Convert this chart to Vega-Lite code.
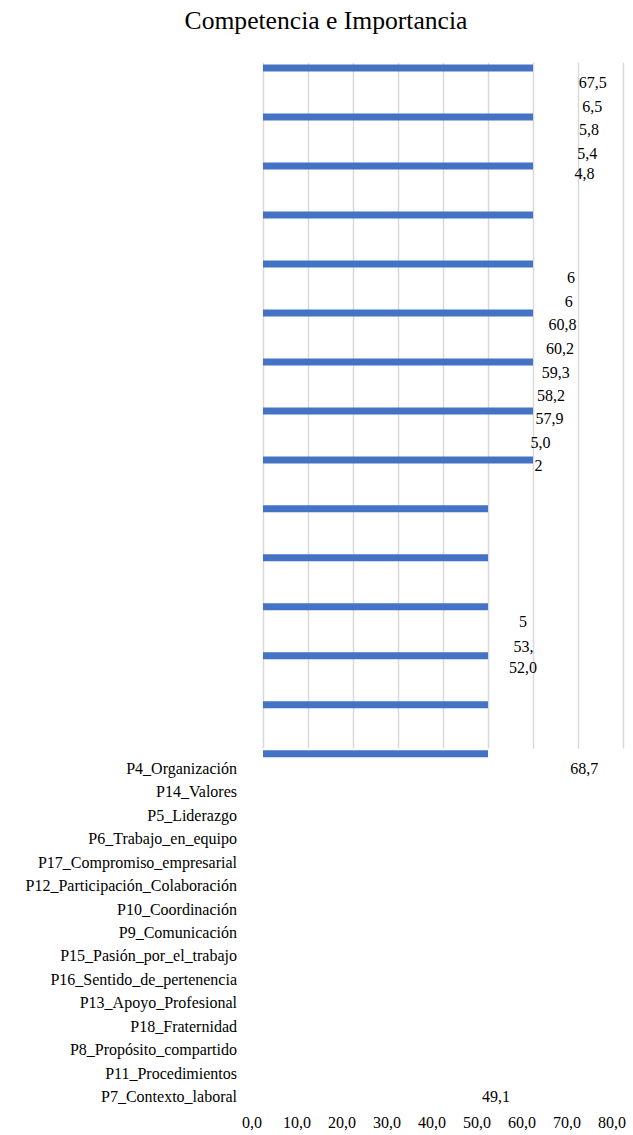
{
  "$schema": "https://vega.github.io/schema/vega-lite/v6.json",
  "width": 360,
  "height": 690,
  "autosize": "none",
  "padding": {"left": 263, "top": 63, "right": 10, "bottom": 382},
  "background": "white",
  "title": {
    "text": "Competencia e Importancia",
    "font": "Liberation Serif, Times New Roman, serif",
    "fontSize": 25.6,
    "fontWeight": "normal",
    "color": "black",
    "anchor": "middle",
    "dx": -117,
    "offset": 28
  },
  "config": {"view": {"stroke": null}, "font": "Liberation Serif, Times New Roman, serif"},
  "resolve": {"scale": {"y": "independent"}},
  "layer": [
    {
      "data": {"values": [
        {"cat": "P4_Organización", "value": 60},
        {"cat": "P14_Valores", "value": 60},
        {"cat": "P5_Liderazgo", "value": 60},
        {"cat": "P6_Trabajo_en_equipo", "value": 60},
        {"cat": "P17_Compromiso_empresarial", "value": 60},
        {"cat": "P12_Participación_Colaboración", "value": 60},
        {"cat": "P10_Coordinación", "value": 60},
        {"cat": "P9_Comunicación", "value": 60},
        {"cat": "P15_Pasión_por_el_trabajo", "value": 60},
        {"cat": "P16_Sentido_de_pertenencia", "value": 50},
        {"cat": "P13_Apoyo_Profesional", "value": 50},
        {"cat": "P18_Fraternidad", "value": 50},
        {"cat": "P8_Propósito_compartido", "value": 50},
        {"cat": "P11_Procedimientos", "value": 50},
        {"cat": "P7_Contexto_laboral", "value": 50}
      ]},
      "mark": {"type": "bar", "size": 7, "color": "#4472C4"},
      "encoding": {
        "x": {
          "field": "value",
          "type": "quantitative",
          "scale": {"domain": [0, 80], "nice": false},
          "axis": {
            "values": [0, 10, 20, 30, 40, 50, 60, 70, 80],
            "title": null,
            "domain": false,
            "ticks": false,
            "grid": true,
            "gridColor": "#D9D9D9",
            "gridWidth": 1.5,
            "labelExpr": "replace(format(datum.value, '.1f'), '.', ',')",
            "labelFont": "Liberation Serif, Times New Roman, serif",
            "labelFontSize": 16,
            "labelColor": "black",
            "labelBaseline": "top",
            "labelPadding": 0,
            "labelFlush": false,
            "labelOverlap": false,
            "labelOffset": -11.5,
            "offset": 361
          }
        },
        "y": {
          "field": "cat",
          "type": "nominal",
          "sort": null,
          "scale": {"type": "point", "padding": 0, "range": [5, 690.8]},
          "axis": null
        }
      }
    },
    {
      "data": {"values": [
        {"cat": "P4_Organización"},
        {"cat": "P14_Valores"},
        {"cat": "P5_Liderazgo"},
        {"cat": "P6_Trabajo_en_equipo"},
        {"cat": "P17_Compromiso_empresarial"},
        {"cat": "P12_Participación_Colaboración"},
        {"cat": "P10_Coordinación"},
        {"cat": "P9_Comunicación"},
        {"cat": "P15_Pasión_por_el_trabajo"},
        {"cat": "P16_Sentido_de_pertenencia"},
        {"cat": "P13_Apoyo_Profesional"},
        {"cat": "P18_Fraternidad"},
        {"cat": "P8_Propósito_compartido"},
        {"cat": "P11_Procedimientos"},
        {"cat": "P7_Contexto_laboral"}
      ]},
      "mark": {"type": "text", "align": "right", "baseline": "middle", "dx": -26, "font": "Liberation Serif, Times New Roman, serif", "fontSize": 16, "color": "black"},
      "encoding": {
        "x": {"datum": 0, "type": "quantitative"},
        "y": {
          "field": "cat",
          "type": "nominal",
          "sort": null,
          "scale": {"type": "point", "padding": 0, "range": [706, 1034]},
          "axis": null
        },
        "text": {"field": "cat"}
      }
    },
    {
      "data": {"values": [
        {"cat": "P4_Organización", "label": "68,7", "value": 68.7},
        {"cat": "P7_Contexto_laboral", "label": "49,1", "value": 49.1}
      ]},
      "mark": {"type": "text", "align": "right", "baseline": "middle", "dx": 26, "font": "Liberation Serif, Times New Roman, serif", "fontSize": 16, "color": "black"},
      "encoding": {
        "x": {"field": "value", "type": "quantitative"},
        "y": {
          "field": "cat",
          "type": "nominal",
          "scale": {"type": "point", "padding": 0, "domain": ["P4_Organización", "P14_Valores", "P5_Liderazgo", "P6_Trabajo_en_equipo", "P17_Compromiso_empresarial", "P12_Participación_Colaboración", "P10_Coordinación", "P9_Comunicación", "P15_Pasión_por_el_trabajo", "P16_Sentido_de_pertenencia", "P13_Apoyo_Profesional", "P18_Fraternidad", "P8_Propósito_compartido", "P11_Procedimientos", "P7_Contexto_laboral"], "range": [706, 1034]},
          "axis": null
        },
        "text": {"field": "label"}
      }
    },
    {
      "data": {"values": [
        {"label": "67,5", "value": 67.5, "line": 0},
        {"label": "6,5", "value": 66.5, "line": 1},
        {"label": "5,8", "value": 65.8, "line": 2},
        {"label": "5,4", "value": 65.4, "line": 3.04},
        {"label": "4,8", "value": 64.8, "line": 3.87},
        {"label": "60,8", "value": 60.8, "line": 10.35},
        {"label": "60,2", "value": 60.2, "line": 11.38},
        {"label": "59,3", "value": 59.3, "line": 12.4},
        {"label": "58,2", "value": 58.2, "line": 13.4},
        {"label": "57,9", "value": 57.9, "line": 14.39},
        {"label": "5,0", "value": 55.0, "line": 15.39},
        {"label": "2", "value": 53.2, "line": 16.37}
      ]},
      "mark": {"type": "text", "align": "right", "baseline": "middle", "dx": 40, "font": "Liberation Serif, Times New Roman, serif", "fontSize": 16, "color": "black"},
      "encoding": {
        "x": {"field": "value", "type": "quantitative"},
        "y": {
          "field": "line",
          "type": "quantitative",
          "scale": {"domain": [0, 25], "range": [20.3, 604.05]},
          "axis": null
        },
        "text": {"field": "label"}
      }
    },
    {
      "data": {"values": [
        {"label": "6", "value": 64.9, "line": 8.34},
        {"label": "6", "value": 64.4, "line": 9.35},
        {"label": "5", "value": 54.2, "line": 23.07},
        {"label": "53,", "value": 53.0, "line": 24.13},
        {"label": "52,0", "value": 52.0, "line": 25.04}
      ]},
      "mark": {"type": "text", "align": "left", "baseline": "middle", "dx": 12, "font": "Liberation Serif, Times New Roman, serif", "fontSize": 16, "color": "black"},
      "encoding": {
        "x": {"field": "value", "type": "quantitative"},
        "y": {
          "field": "line",
          "type": "quantitative",
          "scale": {"domain": [0, 25], "range": [20.3, 604.05]},
          "axis": null
        },
        "text": {"field": "label"}
      }
    }
  ]
}
